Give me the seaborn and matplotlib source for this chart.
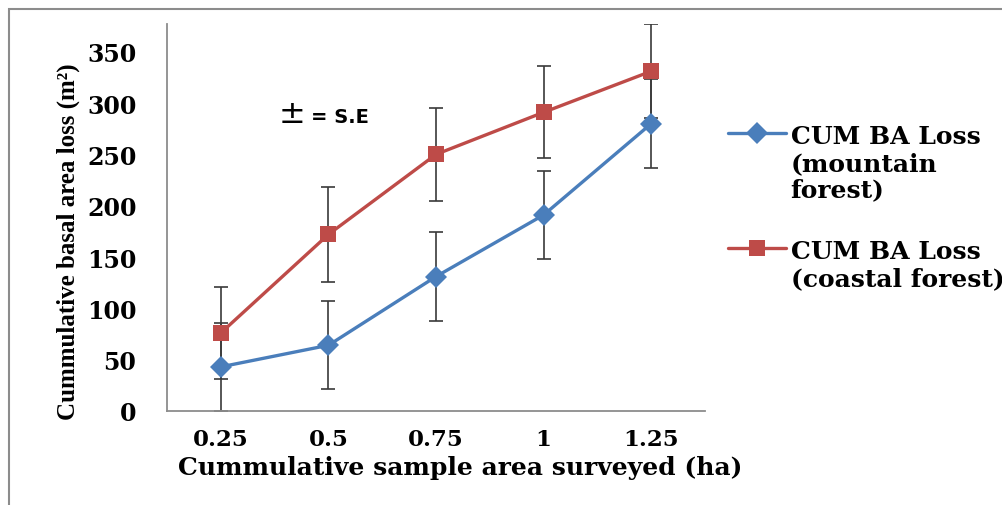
import matplotlib
matplotlib.use("Agg")
import matplotlib.pyplot as plt
import pandas as pd
import seaborn as sns
from matplotlib.patches import Rectangle

# values
area = ["0.25", "0.5", "0.75", "1", "1.25"]
mountain = [43, 64, 131, 191, 280]
mountain_se = [43, 43, 43, 43, 43]
coastal = [76, 172, 250, 291, 331]
coastal_se = [45, 46, 45, 45, 46]
labels = ["CUM BA Loss\n(mountain\nforest)", "CUM BA Loss\n(coastal forest)"]
yticks = [0, 50, 100, 150, 200, 250, 300, 350]

df = pd.DataFrame({
    "area": area * 2,
    "loss": mountain + coastal,
    "series": [labels[0]] * 5 + [labels[1]] * 5,
})

blue = "#4A7EBB"
red = "#BE4B48"

sns.set_style("white")
plt.rcParams["text.color"] = "black"
plt.rcParams["xtick.color"] = "black"
plt.rcParams["ytick.color"] = "black"
plt.rcParams["axes.labelcolor"] = "black"

fig = plt.figure(figsize=(10.03, 5.06), dpi=100)
ax = fig.add_axes([0.1665, 0.1858, 0.5365, 0.7648])

# error bars first so the lines sit on top
ax.errorbar(area, mountain, yerr=mountain_se, fmt="none", ecolor="#3a3a3a",
            elinewidth=1.2, capsize=5, capthick=1.2, zorder=1)
ax.errorbar(area, coastal, yerr=coastal_se, fmt="none", ecolor="#3a3a3a",
            elinewidth=1.2, capsize=5, capthick=1.2, zorder=1)

sns.lineplot(data=df, x="area", y="loss", hue="series", style="series",
             palette=[blue, red], markers=["D", "s"], dashes=False,
             markersize=11, markeredgewidth=0, linewidth=2.4, ax=ax,
             zorder=3)

ax.set_ylim(0, 377)
ax.set_xlim(-0.5, 4.5)
ax.set_yticks(yticks)
ax.tick_params(axis="x", length=0, pad=12)
ax.tick_params(axis="y", length=0, pad=22)
for lab in ax.get_xticklabels():
    lab.set_fontfamily("DejaVu Serif")
    lab.set_fontweight("bold")
    lab.set_fontsize(16.5)
for lab in ax.get_yticklabels():
    lab.set_fontfamily("DejaVu Serif")
    lab.set_fontweight("bold")
    lab.set_fontsize(17)

for side in ["top", "right"]:
    ax.spines[side].set_visible(False)
for side in ["left", "bottom"]:
    ax.spines[side].set_color("#8c8c8c")
    ax.spines[side].set_linewidth(1.3)

ax.set_xlabel("Cummulative sample area surveyed (ha)", fontfamily="DejaVu Serif",
              fontweight="bold", fontsize=18)
ax.xaxis.set_label_coords(0.545, -0.115)
ax.set_ylabel("Cummulative basal area loss (m\u00b2)", fontfamily="Liberation Serif",
              fontweight="bold", fontsize=18)
ax.yaxis.set_label_coords(-0.162, 0.44)

ax.text(0.208, 0.77, "\u00b1", transform=ax.transAxes, fontsize=23,
        fontfamily="DejaVu Sans", va="center", ha="left")
ax.text(0.268, 0.762, "= S.E", transform=ax.transAxes, fontsize=14,
        fontfamily="DejaVu Sans", fontweight="bold", va="center", ha="left")

leg = ax.legend(loc="upper left", bbox_to_anchor=(0.726, 0.753),
                bbox_transform=fig.transFigure, frameon=False,
                prop={"family": "DejaVu Serif", "weight": "bold", "size": 18},
                handlelength=2.3, handletextpad=0.2, labelspacing=1.5,
                borderaxespad=0, borderpad=0)
# put each legend marker beside the first line of its label
for col in leg._legend_handle_box.get_children():
    for item in col.get_children():
        item.align = "top"
for text in leg.get_texts():
    text.set_linespacing(1.15)

fig.patches.append(Rectangle((0.009, -0.1), 1.2, 1.08, transform=fig.transFigure,
                             fill=False, edgecolor="#8c8c8c", linewidth=1.5))

fig.savefig("out.png", dpi=100)
